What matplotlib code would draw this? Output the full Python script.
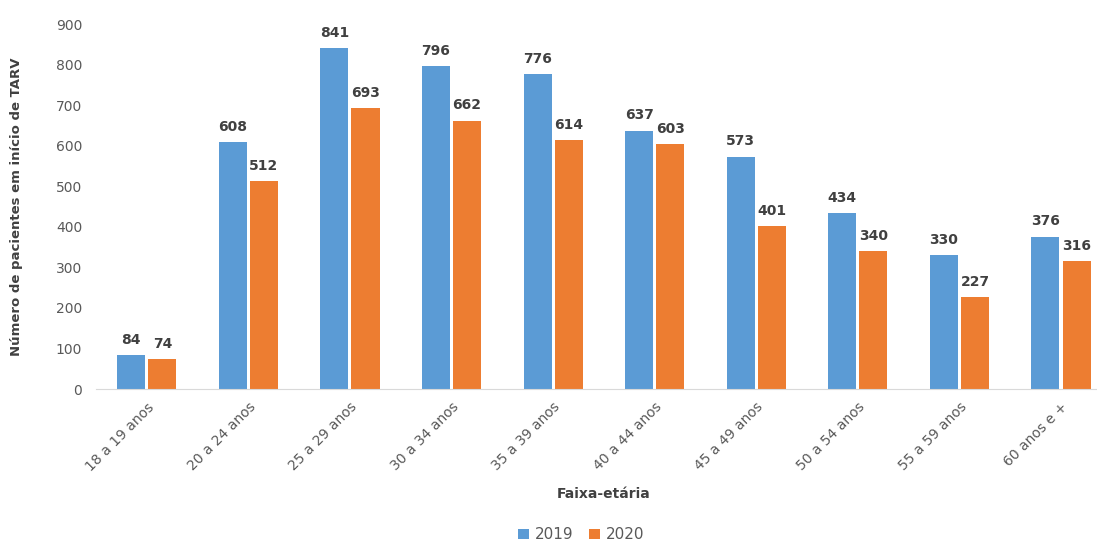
import matplotlib
matplotlib.use("Agg")
import matplotlib.pyplot as plt
import numpy as np

categories = ["18 a 19 anos", "20 a 24 anos", "25 a 29 anos", "30 a 34 anos",
              "35 a 39 anos", "40 a 44 anos", "45 a 49 anos", "50 a 54 anos",
              "55 a 59 anos", "60 anos e +"]
values_2019 = [84, 608, 841, 796, 776, 637, 573, 434, 330, 376]
values_2020 = [74, 512, 693, 662, 614, 603, 401, 340, 227, 316]
series_names = ["2019", "2020"]

blue = "#5B9BD5"
orange = "#ED7D31"
label_color = "#404040"
tick_color = "#595959"

fig = plt.figure(figsize=(10.97, 5.43), dpi=100)
ax = fig.add_axes([0.0875, 0.2836, 0.926, 0.6722])

x = np.arange(len(categories))
w = 0.276
off = 0.153
b1 = ax.bar(x - off, values_2019, w, color=blue, label=series_names[0])
b2 = ax.bar(x + off, values_2020, w, color=orange, label=series_names[1])

for bars in (b1, b2):
    for r in bars:
        ax.annotate(f"{int(r.get_height())}", (r.get_x() + r.get_width() / 2, r.get_height()),
                    xytext=(0, 6), textcoords="offset points", ha="center", va="bottom",
                    fontsize=10, fontweight="bold", color=label_color)

ax.set_xlim(-0.5, len(categories) - 0.5)
ax.set_ylim(0, 900)
ax.set_yticks(range(0, 901, 100))
ax.set_xticks(x)
ax.set_xticklabels(categories, rotation=45, ha="right", rotation_mode="anchor",
                   fontsize=10, color=tick_color)
ax.tick_params(axis="y", length=0, labelsize=10, labelcolor=tick_color, pad=10)
ax.tick_params(axis="x", length=0, pad=8)
for s in ["top", "right", "left"]:
    ax.spines[s].set_visible(False)
ax.spines["bottom"].set_color("#D9D9D9")

ax.set_ylabel("Número de pacientes em início de TARV", fontsize=9.5, fontweight="bold",
              color=label_color)
ax.set_xlabel("Faixa-etária", fontsize=10, fontweight="bold", color=label_color)
ax.xaxis.set_label_coords(0.50, -0.268)
ax.yaxis.set_label_coords(-0.072, 0.5)

leg = fig.legend(handles=[b1, b2], labels=series_names, loc="center",
                 bbox_to_anchor=(0.53, 0.015), ncol=2, frameon=False,
                 fontsize=11, handlelength=0.7, handleheight=0.7, columnspacing=1.0,
                 handletextpad=0.4)
for t in leg.get_texts():
    t.set_color(tick_color)

fig.savefig("out.png", dpi=100)
